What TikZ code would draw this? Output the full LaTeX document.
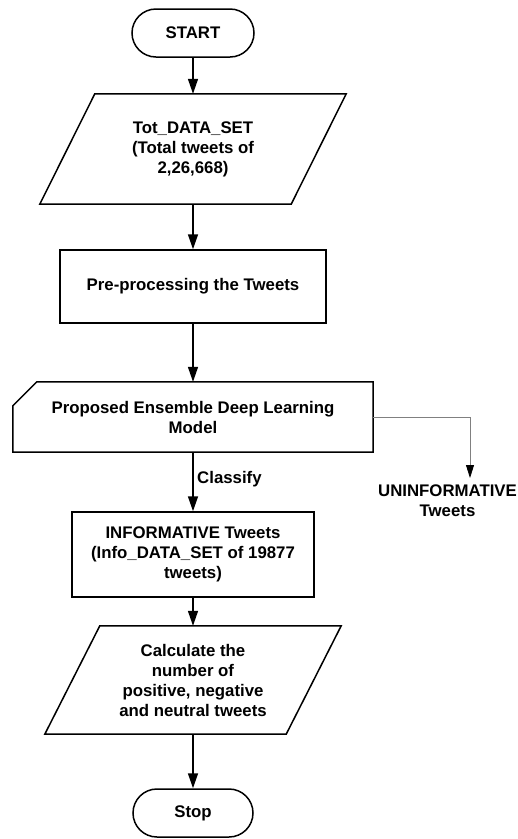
\documentclass[tikz,border=0pt]{standalone}
\usepackage{fontspec}
\setmainfont{Liberation Sans}
\usetikzlibrary{arrows.meta,calc,shapes.misc}
\begin{document}
\begin{tikzpicture}[x=1pt,y=-1pt,
 txt/.style={font=\fontsize{16.8}{20}\selectfont\bfseries, align=center, inner sep=0pt},
 term/.style={txt, draw, line width=1.5pt, rounded rectangle, minimum width=122pt, minimum height=48pt},
 proc/.style={txt, draw, line width=1.5pt, rectangle},
 shapebox/.style={txt, rectangle},
 outline/.style={line width=1.5pt},
 flow/.style={line width=1.5pt, -{Triangle[width=10pt,length=15pt]}},
 side/.style={line width=0.8pt, gray, -{Triangle[width=8pt,length=13pt,fill=black,color=black]}},
]
\useasboundingbox (0,0) rectangle (518,839);

\node[term] (start) at (193,33) {START};

\node[shapebox, minimum width=306pt, minimum height=110pt] (in1) at (193,149) {Tot\_DATA\_SET\\(Total tweets of\\2,26,668)};
\draw[outline] ($(in1.north west)+(55,0)$) -- (in1.north east) -- ($(in1.south east)-(55,0)$) -- (in1.south west) -- cycle;

\node[proc, minimum width=266pt, minimum height=73pt] (pre) at (193,286.5) {Pre-processing the Tweets};

\node[shapebox, minimum width=360pt, minimum height=70pt] (model) at (193,417) {Proposed Ensemble Deep Learning\\Model};
\draw[outline] ($(model.north west)+(24,0)$) -- (model.north east) -- (model.south east) -- (model.south west) -- ($(model.north west)+(0,24)$) -- cycle;

\node[proc, minimum width=242pt, minimum height=85pt] (info) at (193,554.5) {INFORMATIVE Tweets\\(Info\_DATA\_SET of 19877\\tweets)};

\node[shapebox, minimum width=296pt, minimum height=108pt] (calc) at (193,680) {Calculate the\\number of\\positive, negative\\and neutral tweets};
\draw[outline] ($(calc.north west)+(55,0)$) -- (calc.north east) -- ($(calc.south east)-(55,0)$) -- (calc.south west) -- cycle;

\node[term, minimum width=120pt] (stop) at (193,813) {Stop};

\node[txt] (unin) at (447.5,501) {UNINFORMATIVE\\Tweets};
\coordinate (utip) at (470,478);

\node[txt, anchor=west] (cls) at (197,479) {Classify};

\draw[flow] (start.south) -- (in1.north);
\draw[flow] (in1.south) -- (pre.north);
\draw[flow] (pre.south) -- (model.north);
\draw[flow] (model.south) -- (info.north);
\draw[flow] (info.south) -- (calc.north);
\draw[flow] (calc.south) -- (stop.north);
\draw[side] (model.east) -| (utip);
\end{tikzpicture}
\end{document}
